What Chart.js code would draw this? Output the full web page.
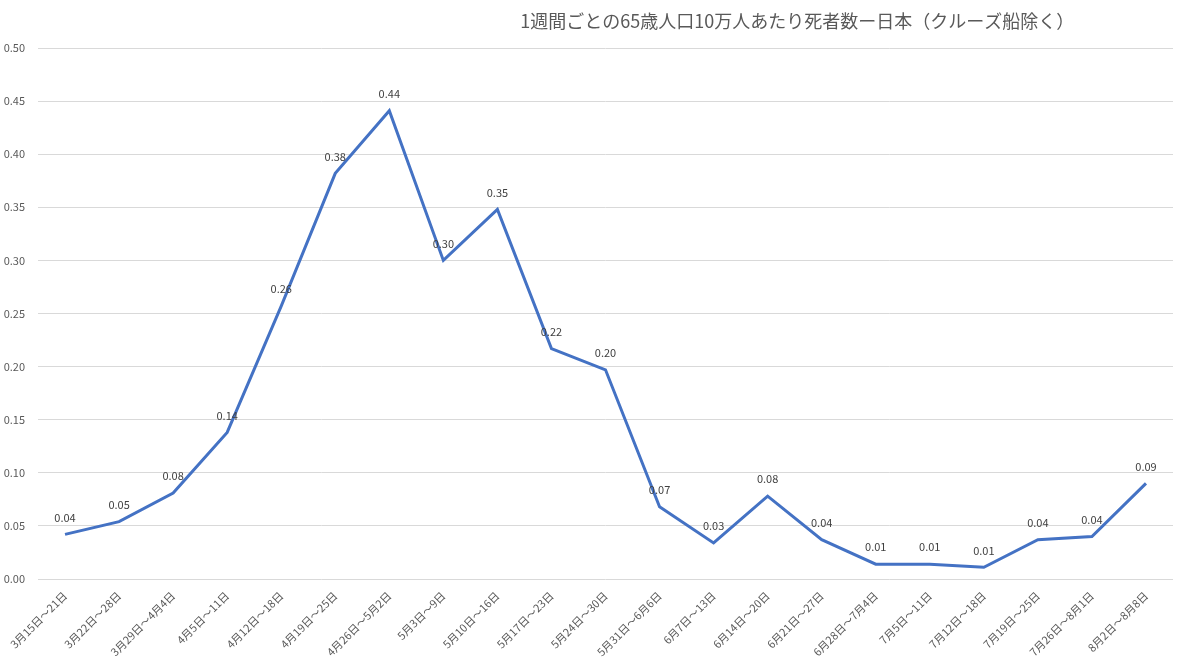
<!DOCTYPE html>
<html>
<head>
<meta charset="utf-8">
<style>
html,body{margin:0;padding:0;background:#fff;}
#wrap{width:1183px;height:672px;position:relative;}
</style>
<script src="https://cdn.jsdelivr.net/npm/chart.js@4.4.1/dist/chart.umd.min.js"></script>
</head>
<body>
<div id="wrap"><canvas id="c" width="1183" height="672"></canvas></div>
<script>
const titleText = "1週間ごとの65歳人口10万人あたり死者数ー日本（クルーズ船除く）";
const categories = [
  "3月15日～21日","3月22日～28日","3月29日～4月4日","4月5日～11日","4月12日～18日",
  "4月19日～25日","4月26日～5月2日","5月3日～9日","5月10日～16日","5月17日～23日",
  "5月24日～30日","5月31日～6月6日","6月7日～13日","6月14日～20日","6月21日～27日",
  "6月28日～7月4日","7月5日～11日","7月12日～18日","7月19日～25日","7月26日～8月1日","8月2日～8月8日"
];
const deaths = [0.042,0.054,0.081,0.138,0.257,0.382,0.441,0.300,0.348,0.217,0.197,0.068,0.034,0.078,0.037,0.014,0.014,0.011,0.037,0.040,0.090];
const yTicks = {min:0, max:0.5, step:0.05};

const FONT = "'Noto Sans CJK JP', 'Noto Sans', sans-serif";

const dataLabels = {
  id:'dataLabels',
  afterDatasetsDraw(chart){
    const ctx = chart.ctx;
    const meta = chart.getDatasetMeta(0);
    ctx.save();
    ctx.font = "11px " + FONT;
    ctx.fillStyle = "#404040";
    ctx.textAlign = "center";
    ctx.textBaseline = "middle";
    meta.data.forEach((pt,i)=>{
      ctx.fillText(deaths[i].toFixed(2), pt.x, pt.y - 17);
    });
    ctx.restore();
  }
};
const titlePlugin = {
  id:'customTitle',
  afterDraw(chart){
    const ctx = chart.ctx;
    const a = chart.chartArea;
    ctx.save();
    ctx.font = "18px " + FONT;
    ctx.fillStyle = "#595959";
    ctx.textAlign = "center";
    ctx.textBaseline = "middle";
    ctx.fillText(titleText, a.left + (a.right - a.left)*0.669, 21);
    ctx.restore();
  }
};

new Chart(document.getElementById('c'), {
  type:'line',
  data:{
    labels: categories,
    datasets:[{
      data: deaths,
      borderColor:'#4472C4',
      borderWidth:3,
      pointRadius:0,
      fill:false,
      tension:0
    }]
  },
  options:{
    responsive:false,
    animation:false,
    layout:{padding:{top:48,right:10,left:0,bottom:0}},
    plugins:{legend:{display:false}, title:{display:false}, tooltip:{enabled:false}},
    scales:{
      x:{
        offset:true,
        grid:{display:false},
        border:{display:false},
        ticks:{
          color:'#595959',
          font:{family:FONT,size:11},
          maxRotation:45, minRotation:45, autoSkip:false, padding:2
        },
        afterFit(s){ s.height = 93; }
      },
      y:{
        min:yTicks.min, max:yTicks.max,
        grid:{color:'#d9d9d9', drawTicks:false},
        border:{display:false},
        ticks:{
          stepSize:yTicks.step,
          color:'#595959',
          font:{family:FONT,size:11},
          padding:13,
          callback:(v)=>Number(v).toFixed(2)
        },
        afterFit(s){ s.width = 38; }
      }
    }
  },
  plugins:[dataLabels,titlePlugin]
});
</script>
</body>
</html>
